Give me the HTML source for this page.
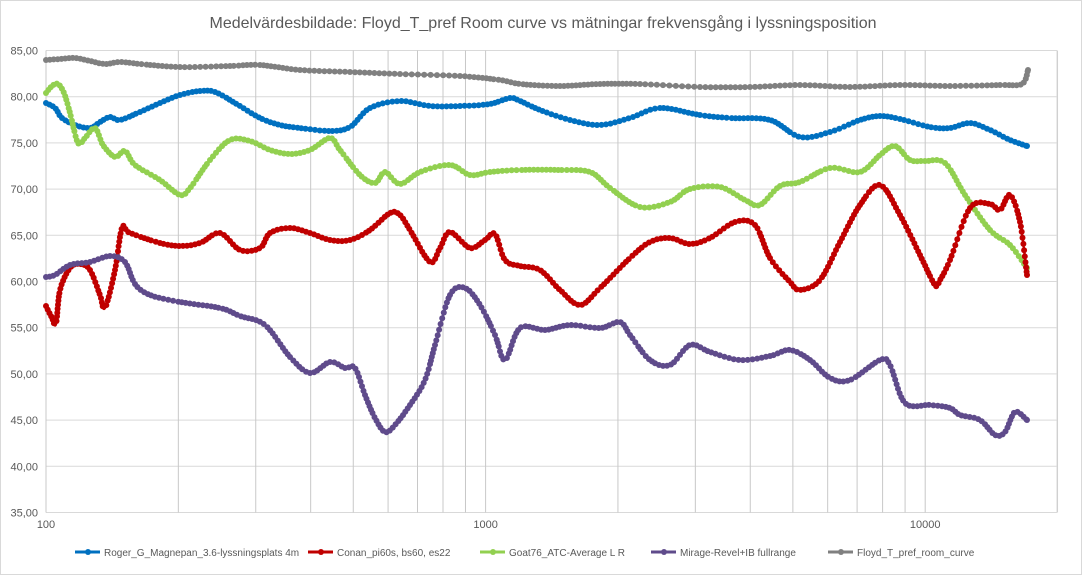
<!DOCTYPE html>
<html><head><meta charset="utf-8">
<style>
body{margin:0;background:#fff;}
svg{display:block;font-family:"Liberation Sans",sans-serif;}
</style></head><body>
<svg id="s" width="1087" height="575" xmlns="http://www.w3.org/2000/svg">
<rect x="0.5" y="0.5" width="1081" height="574" fill="#fff" stroke="#d9d9d9"/>
<text x="543" y="28" text-anchor="middle" font-size="16" fill="#595959">Medelvärdesbildade: Floyd_T_pref Room curve vs mätningar  frekvensgång i lyssningsposition</text>
<g id="grid"></g>
<g id="series"></g>
<g font-size="10" fill="#595959">
<line x1="75" y1="552" x2="100" y2="552" stroke="#0070c0" stroke-width="3"/><circle cx="88" cy="552" r="3" fill="#0070c0"/>
<text x="104" y="556">Roger_G_Magnepan_3.6-lyssningsplats 4m</text>
<line x1="308" y1="552" x2="333" y2="552" stroke="#c00000" stroke-width="3"/><circle cx="321" cy="552" r="3" fill="#c00000"/>
<text x="337" y="556">Conan_pi60s, bs60, es22</text>
<line x1="480" y1="552" x2="505" y2="552" stroke="#92d050" stroke-width="3"/><circle cx="493" cy="552" r="3" fill="#92d050"/>
<text x="509" y="556">Goat76_ATC-Average L R</text>
<line x1="651" y1="552" x2="676" y2="552" stroke="#5f4b8b" stroke-width="3"/><circle cx="664" cy="552" r="3" fill="#5f4b8b"/>
<text x="680" y="556">Mirage-Revel+IB fullrange</text>
<line x1="828" y1="552" x2="853" y2="552" stroke="#808080" stroke-width="3"/><circle cx="841" cy="552" r="3" fill="#808080"/>
<text x="857" y="556">Floyd_T_pref_room_curve</text>
</g>
</svg>
<script>
var NS="http://www.w3.org/2000/svg";
function el(p,t,a){var e=document.createElementNS(NS,t);for(var k in a)e.setAttribute(k,a[k]);p.appendChild(e);return e;}
var g=document.getElementById("grid");
var X0=46,DEC=439.6,Y85=50.5,STEP=46.2,X1=1057;
function fx(f){return X0+DEC*Math.log10(f/100);}
for(var i=0;i<=10;i++){var y=Y85+i*STEP;el(g,"line",{x1:X0,x2:X1,y1:y,y2:y,stroke:"#d9d9d9","stroke-width":1});
var v=85-i*5;var t=el(g,"text",{x:38,y:y+4,"text-anchor":"end","font-size":"11",fill:"#595959"});t.textContent=v.toFixed(2).replace(".",",");}
[100,1000,10000].forEach(function(d){for(var m=1;m<10;m++){var f=d*m;if(f>20000)break;var x=fx(f);
el(g,"line",{x1:x,x2:x,y1:Y85,y2:Y85+10*STEP,stroke:"#c8c8c8","stroke-width":1});}});
el(g,"line",{x1:X1,x2:X1,y1:Y85,y2:Y85+10*STEP,stroke:"#d9d9d9"});
[[100,"100"],[1000,"1000"],[10000,"10000"]].forEach(function(a){var t=el(g,"text",{x:fx(a[0]),y:528,"text-anchor":"middle","font-size":"11",fill:"#595959"});t.textContent=a[1];});
var S=[
["#808080",[46,60,60,59,75,58,90,61,105,64,120,62,140,64,180,67,230,66,260,65,300,70,350,72,400,74,460,76,500,80,520,84,560,86,600,84,640,84,700,87,750,87,800,85,850,87,900,85,950,86,1000,85,1022,84,1028,70]],
["#0070c0",[46,103,55,108,62,118,75,125,90,128,100,122,110,117,120,120,140,112,160,103,180,95,200,91,215,92,235,103,260,118,280,125,300,128,330,131,350,127,370,108,400,101,430,106,460,106,490,104,510,98,520,101,540,110,570,120,600,125,630,118,660,108,700,115,730,118,770,120,800,137,830,132,860,120,880,116,900,119,930,127,950,128,970,123,990,130,1010,140,1027,146]],
["#92d050",[46,93,52,86,58,84,64,93,70,113,78,143,85,138,95,128,103,145,115,157,125,151,135,165,160,180,180,195,190,188,210,160,230,140,250,141,270,150,290,154,310,150,330,138,340,150,360,175,375,183,385,172,400,184,420,172,450,165,470,175,490,172,520,170,560,170,590,172,610,188,640,207,670,202,690,189,720,187,745,200,760,205,780,186,800,182,830,168,860,172,880,155,895,146,910,160,925,161,945,163,965,195,990,230,1010,245,1027,268]],
["#c00000",[46,306,52,318,56,324,60,290,70,268,80,264,90,270,100,295,105,308,115,270,122,228,130,233,160,243,180,246,200,243,220,233,240,250,260,248,270,233,290,228,310,233,330,240,350,240,370,230,390,213,400,215,410,230,430,262,440,248,450,232,470,248,485,240,495,234,505,260,520,266,540,270,560,290,580,305,600,288,630,258,650,242,670,238,690,244,710,238,735,222,755,225,770,258,790,282,800,290,820,280,840,242,860,205,880,185,900,215,920,255,935,285,940,280,950,260,970,208,990,204,1000,210,1010,195,1020,222,1027,275]],
["#5f4b8b",[46,277,55,275,70,265,90,262,110,256,125,262,135,284,150,295,180,302,220,308,240,316,265,325,290,357,310,373,330,362,345,368,355,368,365,395,375,418,385,432,395,425,410,405,425,380,435,345,450,295,465,288,480,305,495,335,505,360,520,328,545,330,570,325,600,328,620,322,630,335,650,360,670,365,690,345,710,352,740,360,770,356,790,350,810,360,830,378,850,380,880,360,890,365,905,403,930,405,950,408,960,415,980,420,995,435,1005,432,1015,412,1027,420]]
];
var sg=document.getElementById("series");
S.forEach(function(s){var p=s[1],P=[];for(var i=0;i<p.length;i+=2)P.push([p[i],p[i+1]]);
var dense=[];
for(var i=0;i<P.length-1;i++){var a=P[Math.max(0,i-1)],b=P[i],c=P[i+1],d=P[Math.min(P.length-1,i+2)];
for(var k=0;k<20;k++){var t=k/20,t2=t*t,t3=t2*t;
var x=0.5*((2*b[0])+(-a[0]+c[0])*t+(2*a[0]-5*b[0]+4*c[0]-d[0])*t2+(-a[0]+3*b[0]-3*c[0]+d[0])*t3);
var y=0.5*((2*b[1])+(-a[1]+c[1])*t+(2*a[1]-5*b[1]+4*c[1]-d[1])*t2+(-a[1]+3*b[1]-3*c[1]+d[1])*t3);
dense.push([x,y]);}}
dense.push(P[P.length-1]);
el(sg,"polyline",{points:dense.map(function(q){return q[0].toFixed(1)+","+q[1].toFixed(1)}).join(" "),fill:"none",stroke:s[0],"stroke-width":2.5,"stroke-linejoin":"round"});
var last=null;dense.forEach(function(q,i){if(!last||Math.hypot(q[0]-last[0],q[1]-last[1])>=3.5||i==dense.length-1){el(sg,"circle",{cx:q[0].toFixed(1),cy:q[1].toFixed(1),r:3,fill:s[0]});last=q;}});
});
</script>
</body></html>
